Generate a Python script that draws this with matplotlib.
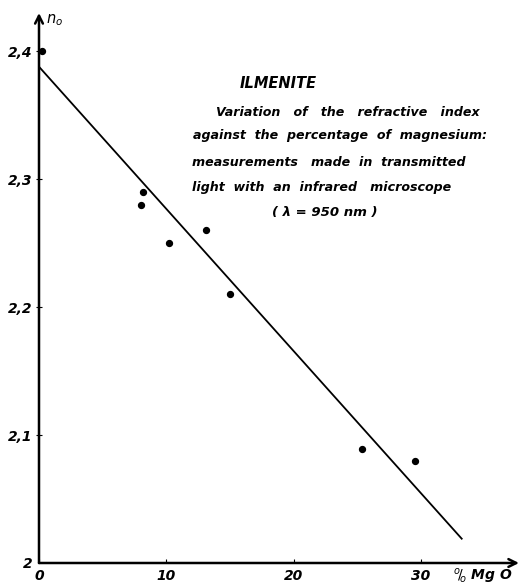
import matplotlib
matplotlib.use("Agg")
import matplotlib.pyplot as plt

# Data
mgo_pct = [0.2, 8.2, 8.0, 10.2, 13.1, 15.0, 25.4, 29.5]
n_index = [2.400, 2.290, 2.280, 2.250, 2.260, 2.210, 2.089, 2.080]
fit_x = [0.0, 33.2]
fit_y = [2.388, 2.019]
x_ticks = [0, 10, 20, 30]
x_tick_labels = ["0", "10", "20", "30"]
y_ticks = [2.0, 2.1, 2.2, 2.3, 2.4]
y_tick_labels = ["2", "2,1", "2,2", "2,3", "2,4"]

W, H = 522, 587
fig = plt.figure(figsize=(W / 100, H / 100), dpi=100)
ax = fig.add_axes([39 / W, 1 - 563 / H, (519 - 39) / W, (563 - 13) / H])

font = dict(family="DejaVu Sans", style="italic", weight="bold")

ax.plot(fit_x, fit_y, color="black", lw=1.3)
ax.scatter(mgo_pct, n_index, s=18, color="black", zorder=3)

ax.set_xlim(0, 37.7)
ax.set_ylim(2.0, 2.43)

for s in ["top", "right", "left", "bottom"]:
    ax.spines[s].set_visible(False)
ax.annotate("", xy=(1, 0), xytext=(0, 0), xycoords="axes fraction",
            arrowprops=dict(arrowstyle="->", lw=1.8, color="black",
                            shrinkA=0, shrinkB=0, mutation_scale=14))
ax.annotate("", xy=(0, 1), xytext=(0, 0), xycoords="axes fraction",
            arrowprops=dict(arrowstyle="->", lw=1.8, color="black",
                            shrinkA=0, shrinkB=0, mutation_scale=14))

ax.set_xticks(x_ticks)
ax.set_xticklabels(x_tick_labels, fontsize=10, **font)
ax.set_yticks(y_ticks)
ax.set_yticklabels(y_tick_labels, fontsize=10, **font)
ax.tick_params(axis="x", length=3, direction="in", pad=4)
ax.tick_params(axis="y", length=5, direction="inout", pad=2)
ax.get_yticklines()[0].set_visible(False)
ax.get_yticklines()[1].set_visible(False)

def px(x, y, s, size=9.1, ha="left", **kw):
    fig.text(x / W, 1 - y / H, s, fontsize=size, ha=ha, va="center", **font, **kw)

px(46, 20, r"$n_o$", size=10.5)
px(453, 576, r"$^{o}\!/\!_{o}$ Mg O", size=10)

px(240, 84, "ILMENITE", size=10.5)
px(216, 112, "Variation   of   the   refractive   index")
px(193, 136, "against  the  percentage  of  magnesium:")
px(192, 162, "measurements   made  in  transmitted")
px(192, 187, "light  with  an  infrared   microscope")
px(272, 212, "( λ = 950 nm )", size=9.5)

fig.savefig("out.png", dpi=100)
